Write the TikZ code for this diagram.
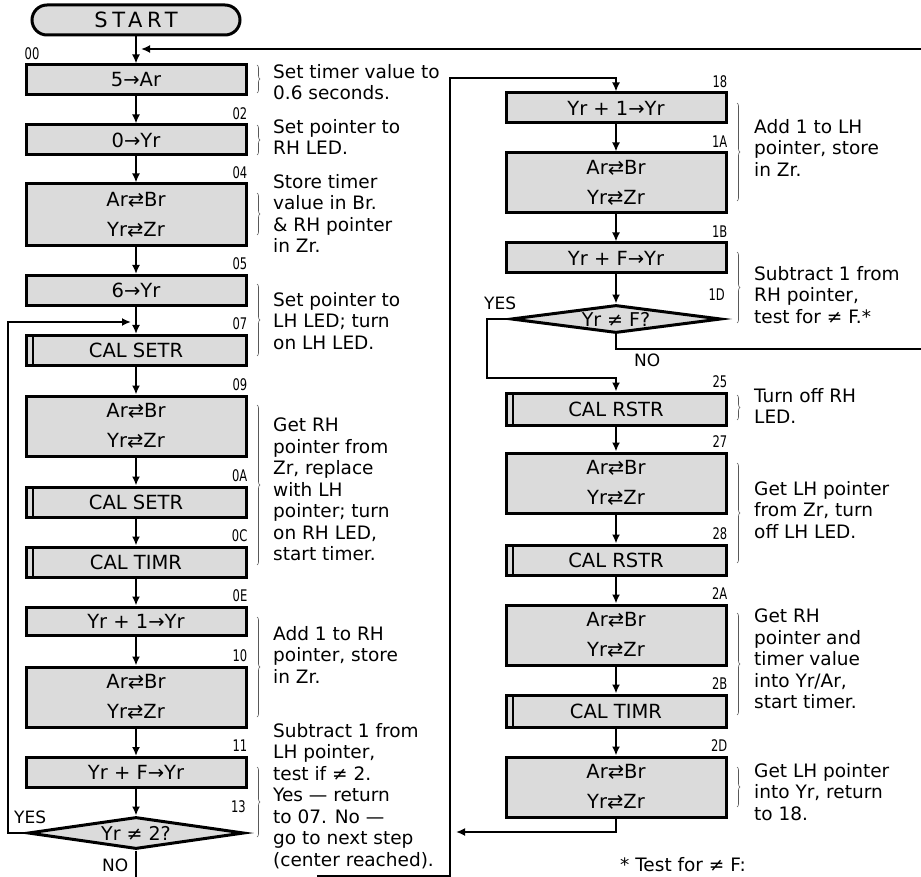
\documentclass[tikz,border=0pt]{standalone}
\usepackage{fontspec}
\setmainfont{DejaVu Sans}
\newfontfamily\numfont[FakeStretch=0.72]{DejaVu Sans}
\newfontfamily\startfont[LetterSpace=22]{DejaVu Sans}
\usetikzlibrary{arrows.meta}
\usetikzlibrary{shapes.geometric}
\usetikzlibrary{decorations.pathreplacing}
\colorlet{boxfill}{gray!28}
\colorlet{bracecol}{gray!70!black}

\begin{document}
\begin{tikzpicture}[x=1pt, y=-1pt,
    box/.style={draw, line width=3pt, fill=boxfill, minimum width=220pt, minimum height=30pt, inner sep=0pt, align=center, font=\fontsize{19.5}{30}\selectfont},
    tallbox/.style={box, minimum height=60pt},
    subr/.style={box, path picture={\draw[line width=2pt] ([xshift=7pt]path picture bounding box.north west) -- ([xshift=7pt]path picture bounding box.south west);}},
    test/.style={draw, diamond, shape aspect=6.75, line width=3pt, fill=boxfill, minimum width=216pt, minimum height=32pt, inner sep=0pt, font=\fontsize{19}{20}\selectfont},
    flow/.style={line width=2.4pt, -{Latex[length=9pt, width=8pt]}},
    wire/.style={line width=2.4pt},
    numlab/.style={inner sep=0pt, font=\numfont\fontsize{16}{16}\selectfont},
    note/.style={inner sep=0pt, anchor=north west, align=left, font=\fontsize{18.5}{21.5}\selectfont},
    yesno/.style={inner sep=0pt, anchor=base west, font=\fontsize{17}{17}\selectfont},
    cbrace/.style={decorate, decoration={brace, amplitude=3pt}, line width=0.6pt, bracecol}]
    \useasboundingbox (0,0) rectangle (921,877);

    \node[draw, line width=3pt, fill=boxfill, rounded corners=15pt, minimum width=208pt, minimum height=30pt, inner sep=0pt, font=\startfont\fontsize{21}{21}\selectfont] (start) at (136,20) {START};

    \node[box] (b00) at (136,80) {5→Ar};
    \node[box] (b02) at (136,140) {0→Yr};
    \node[tallbox, minimum height=62pt] (b04) at (136,215) {Ar⇄Br\\Yr⇄Zr};
    \node[box] (b05) at (136,290.5) {6→Yr};
    \node[subr] (b07) at (136,350.5) {CAL SETR};
    \node[tallbox] (b09) at (136,426) {Ar⇄Br\\Yr⇄Zr};
    \node[subr] (b0A) at (136,502) {CAL SETR};
    \node[subr] (b0C) at (136,562) {CAL TIMR};
    \node[box, minimum height=28pt] (b0E) at (136,621) {Yr + 1→Yr};
    \node[tallbox] (b10) at (136,697) {Ar⇄Br\\Yr⇄Zr};
    \node[box] (b11) at (136,772.5) {Yr + F→Yr};
    \node[test] (d13) at (136,833) {Yr ≠ 2?};

    \node[box] (b18) at (616,108) {Yr + 1→Yr};
    \node[tallbox] (b1A) at (616,183) {Ar⇄Br\\Yr⇄Zr};
    \node[box] (b1B) at (616,258) {Yr + F→Yr};
    \node[test, minimum width=210pt, minimum height=28pt] (d1D) at (616,319) {Yr ≠ F?};
    \node[subr, minimum height=32pt] (b25) at (616,409) {CAL RSTR};
    \node[tallbox] (b27) at (616,483) {Ar⇄Br\\Yr⇄Zr};
    \node[subr] (b28) at (616,560) {CAL RSTR};
    \node[tallbox] (b2A) at (616,635) {Ar⇄Br\\Yr⇄Zr};
    \node[subr, minimum height=32pt] (b2B) at (616,711) {CAL TIMR};
    \node[tallbox] (b2D) at (616,787) {Ar⇄Br\\Yr⇄Zr};

    \node[numlab, anchor=south west, yshift=4pt] at (b00.north west) {00};
    \foreach \b/\t in {b02/02, b04/04, b05/05, b07/07, b09/09, b0A/0A, b0C/0C, b0E/0E, b10/10, b11/11,
                       b18/18, b1A/1A, b1B/1B, b25/25, b27/27, b28/28, b2A/2A, b2B/2B, b2D/2D}
    {
        \node[numlab, anchor=south east, yshift=4pt] at (\b.north east) {\t};
    }
    \node[numlab, anchor=south east] at (246,813) {13};
    \node[numlab, anchor=south east] at (725,301) {1D};

    \foreach \a/\b in {start/b00, b00/b02, b02/b04, b04/b05, b05/b07, b07/b09, b09/b0A, b0A/b0C,
                       b0C/b0E, b0E/b10, b10/b11, b11/d13, b18/b1A, b1A/b1B, b1B/d1D,
                       b25/b27, b27/b28, b28/b2A, b2A/b2B, b2B/b2D}
    {
        \draw[flow] (\a) -- (\b);
    }

    \coordinate (edgeTop) at (921,49);
    \coordinate (edgeNo) at (921,349);
    \coordinate (loopL) at (8,322);
    \coordinate (yesR) at (487,378);
    \coordinate (riser) at (450,78);
    \coordinate (botL) at (317,876);
    \coordinate (noEnd) at (136,877);
    \coordinate (back18) at (456,832);

    \draw[flow, shorten >=5pt] (edgeTop) -- (edgeTop -| b00.north);
    \draw[flow, shorten >=5pt] (d13.west) -| (loopL) -- (loopL -| b07.north);
    \draw[wire] (d13.south) -- (noEnd);
    \draw[flow] (botL) -| (riser) -| (b18.north);
    \draw[flow] (d1D.west) -| (yesR) -| (b25.north);
    \draw[wire] (d1D.south) |- (edgeNo);
    \draw[flow] (b2D.south) |- (back18);

    \node[yesno] (yes13) at (14,823) {YES};
    \node[yesno] (no13) at (102,871) {NO};
    \node[yesno] (yes1D) at (484,310) {YES};
    \node[yesno] (no1D) at (634,366) {NO};

    \node[note] (c00) at (273,64) {Set timer value to\\0.6 seconds.};
    \node[note] (c02) at (273,119) {Set pointer to\\RH LED.};
    \node[note] (c04) at (273,174) {Store timer\\value in Br.\\\& RH pointer\\in Zr.};
    \node[note] (c05) at (273,292) {Set pointer to\\LH LED; turn\\on LH LED.};
    \node[note] (c09) at (273,418) {Get RH\\pointer from\\Zr, replace\\with LH\\pointer; turn\\on RH LED,\\start timer.};
    \node[note] (c0E) at (273,626) {Add 1 to RH\\pointer, store\\in Zr.};
    \node[note] (c11) at (273,723) {Subtract 1 from\\LH pointer,\\test if ≠ 2.\\Yes — return\\to 07. No —\\go to next step\\(center reached).};
    \node[note] (c18) at (754,119) {Add 1 to LH\\pointer, store\\in Zr.};
    \node[note] (c1B) at (754,266) {Subtract 1 from\\RH pointer,\\test for ≠ F.*};
    \node[note] (c25) at (754,388) {Turn off RH\\LED.};
    \node[note] (c27) at (754,481) {Get LH pointer\\from Zr, turn\\off LH LED.};
    \node[note] (c2A) at (754,609) {Get RH\\pointer and\\timer value\\into Yr/Ar,\\start timer.};
    \node[note] (c2D) at (754,763) {Get LH pointer\\into Yr, return\\to 18.};
    \node[note, anchor=base west] (foot) at (620,871) {* Test for ≠ F:};

    \foreach \x/\ya/\yb in {257/65/93, 257/125/155, 257/193/235, 257/284/356, 257/405/565, 257/617/717, 257/767/837,
                            737/103/201, 737/252/323, 737/395/420, 737/463/563, 737/613/715, 737/767/807}
    {
        \draw[cbrace] (\x,\ya) -- (\x,\yb);
    }
\end{tikzpicture}
\end{document}
